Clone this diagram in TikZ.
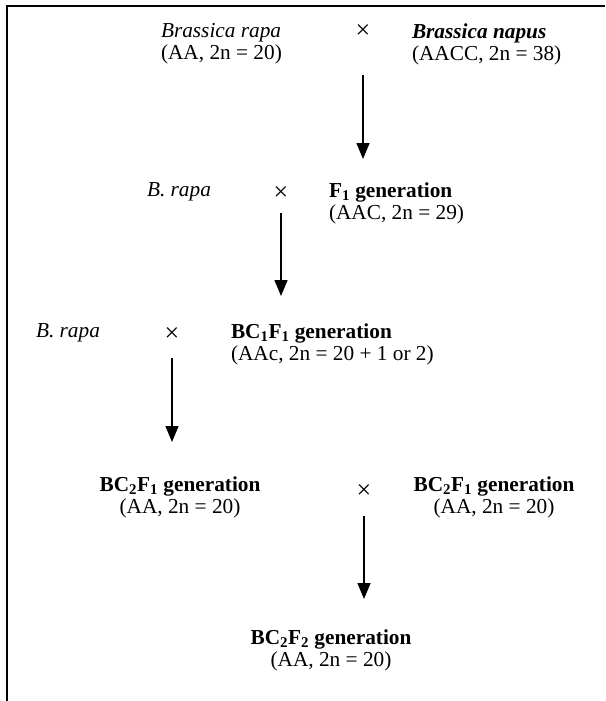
\documentclass[tikz,border=0pt]{standalone}
\usepackage{fontspec}
\setmainfont{Liberation Serif}
\usetikzlibrary{arrows.meta,positioning}

\begin{document}
\begin{tikzpicture}[x=1pt,y=-1pt]

\tikzstyle{plant}=[inner sep=0pt,outer sep=0pt,font=\fontsize{21.3}{22}\selectfont]
\tikzstyle{cross}=[inner sep=0pt,outer sep=0pt,font=\fontsize{26}{26}\selectfont]
\tikzstyle{gen}=[line width=1.5pt,-{Triangle[length=16pt,width=13pt]}]

\useasboundingbox (0,0) rectangle (605,701);

% Ramka

\draw [line width=2pt] (7,701) -- (7,6) -- (605,6);

% Rodzice

\node (rapa1) [plant,anchor=west,align=left] at (161,44) {\textit{Brassica rapa}\\(AA, 2n = 20)};
\node (cross1) [cross] at (363,32) {×};
\node (napus) [plant,anchor=west,align=left] at (412,44) {\textbf{\textit{Brassica napus}}\\(AACC, 2n = 38)};

\coordinate (end1) at (363,159);
\draw [gen] (363,75) -- (end1);

% F1

\node (rapa2) [plant,anchor=west] at (147,192) {\textit{B. rapa}};
\node (cross2) [cross] at (281,194) {×};
\node (fone) [plant,anchor=west,align=left] at (329,203) {\textbf{F\textsubscript{1} generation}\\(AAC, 2n = 29)};

\coordinate (end2) at (281,296);
\draw [gen] (281,213) -- (end2);

% BC1F1

\node (rapa3) [plant,anchor=west] at (36,333) {\textit{B. rapa}};
\node (cross3) [cross] at (172,335) {×};
\node (bcone) [plant,anchor=west,align=left] at (231,344) {\textbf{BC\textsubscript{1}F\textsubscript{1} generation}\\(AAc, 2n = 20 + 1 or 2)};

\coordinate (end3) at (172,442);
\draw [gen] (172,358) -- (end3);

% BC2F1 x BC2F1

\node (bctwoa) [plant,align=center] at (180,497) {\textbf{BC\textsubscript{2}F\textsubscript{1} generation}\\(AA, 2n = 20)};
\node (cross4) [cross] at (364,492) {×};
\node (bctwob) [plant,align=center] at (494,497) {\textbf{BC\textsubscript{2}F\textsubscript{1} generation}\\(AA, 2n = 20)};

\coordinate (end4) at (364,599);
\draw [gen] (364,516) -- (end4);

% BC2F2

\node (bctwotwo) [plant,align=center] at (331,650) {\textbf{BC\textsubscript{2}F\textsubscript{2} generation}\\(AA, 2n = 20)};

\end{tikzpicture}
\end{document}
